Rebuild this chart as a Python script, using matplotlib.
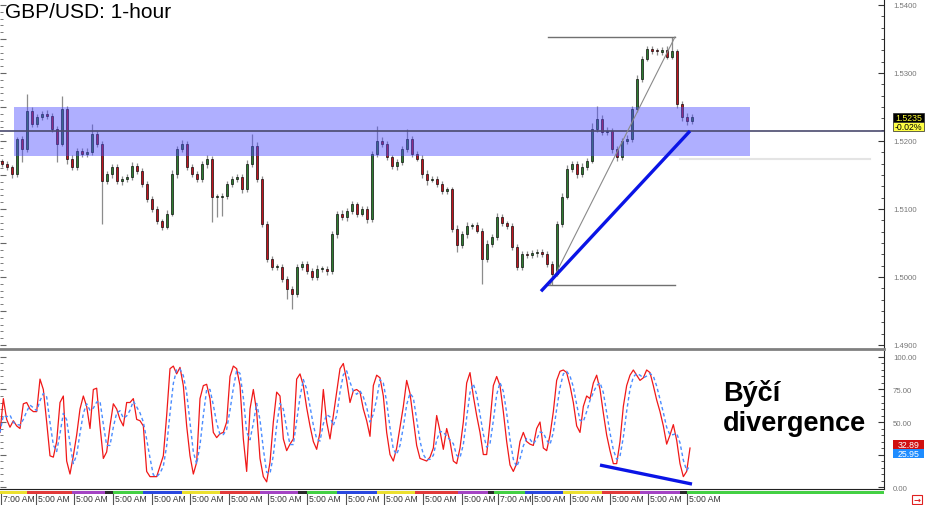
import numpy as np
import pandas as pd
import matplotlib
matplotlib.use("Agg")
import matplotlib.pyplot as plt
from matplotlib.patches import Rectangle
from matplotlib.transforms import blended_transform_factory as btf
from matplotlib.ticker import MultipleLocator, FixedLocator, NullFormatter, FormatStrFormatter, FixedFormatter

plt.rcParams['font.family'] = ['Liberation Sans', 'DejaVu Sans']

# ---------------- data ----------------
first_open = 1.5170
closes = [
    1.5166, 1.5162, 1.5151, 1.5203, 1.5188, 1.5244, 1.5225, 1.5235, 1.5240, 1.5237,
    1.5218, 1.5196, 1.5247, 1.5174, 1.5162, 1.5185, 1.5181, 1.5184, 1.5210, 1.5196,
    1.5141, 1.5151, 1.5162, 1.5141, 1.5144, 1.5147, 1.5163, 1.5156, 1.5137, 1.5115,
    1.5100, 1.5082, 1.5074, 1.5093, 1.5151, 1.5188, 1.5196, 1.5162, 1.5151, 1.5144,
    1.5166, 1.5174, 1.5118, 1.5118, 1.5119, 1.5137, 1.5144, 1.5147, 1.5129, 1.5166,
    1.5193, 1.5144, 1.5078, 1.5026, 1.5015, 1.5015, 1.4997, 1.4982, 1.4975, 1.5015,
    1.5019, 1.5009, 1.5000, 1.5012, 1.5012, 1.5009, 1.5063, 1.5093, 1.5088, 1.5097,
    1.5107, 1.5093, 1.5100, 1.5085, 1.5181, 1.5200, 1.5196, 1.5176, 1.5163, 1.5169,
    1.5188, 1.5203, 1.5181, 1.5174, 1.5151, 1.5143, 1.5144, 1.5137, 1.5126, 1.5129,
    1.5071, 1.5047, 1.5063, 1.5075, 1.5076, 1.5068, 1.5026, 1.5049, 1.5059, 1.5088,
    1.5079, 1.5075, 1.5044, 1.5015, 1.5034, 1.5032, 1.5035, 1.5037, 1.5034, 1.5019,
    1.5005, 1.5078, 1.5118, 1.5159, 1.5166, 1.5151, 1.5162, 1.5171, 1.5218, 1.5232,
    1.5213, 1.5215, 1.5188, 1.5176, 1.5200, 1.5203, 1.5247, 1.5291, 1.5321, 1.5335,
    1.5332, 1.5331, 1.5334, 1.5324, 1.5332, 1.5254, 1.5235, 1.5229, 1.5235,
]
# wick lengths in pips above / below the candle body
wick_up = [
    4, 4, 3, 3, 4, 25, 6, 5, 4, 5,
    4, 4, 19, 4, 5, 4, 4, 5, 15, 5,
    4, 5, 4, 4, 5, 4, 6, 4, 4, 4,
    4, 5, 4, 5, 6, 4, 5, 4, 4, 5,
    4, 6, 4, 4, 5, 4, 4, 5, 4, 6,
    17, 5, 4, 4, 5, 4, 4, 4, 5, 4,
    5, 4, 4, 5, 4, 4, 5, 4, 5, 4,
    5, 4, 4, 4, 5, 22, 6, 4, 4, 5,
    5, 15, 4, 4, 5, 6, 4, 5, 4, 4,
    4, 5, 4, 6, 4, 5, 4, 5, 4, 6,
    5, 4, 4, 5, 4, 4, 5, 4, 4, 4,
    4, 5, 6, 6, 5, 4, 5, 4, 8, 19,
    6, 5, 4, 5, 4, 6, 5, 6, 4, 5,
    4, 5, 4, 5, 21, 4, 5, 6, 4,
]
wick_dn = [
    4, 5, 5, 4, 19, 4, 5, 4, 4, 4,
    5, 27, 4, 8, 5, 4, 4, 5, 4, 5,
    63, 4, 5, 4, 5, 4, 4, 5, 4, 4,
    5, 4, 5, 4, 4, 5, 4, 5, 4, 4,
    4, 5, 37, 30, 28, 4, 5, 4, 6, 4,
    4, 5, 4, 4, 5, 4, 4, 15, 22, 4,
    5, 4, 5, 4, 4, 6, 4, 5, 4, 5,
    4, 5, 4, 6, 4, 4, 5, 4, 4, 5,
    4, 4, 5, 4, 5, 8, 4, 5, 4, 4,
    5, 10, 4, 5, 4, 4, 36, 4, 5, 4,
    4, 5, 4, 4, 5, 4, 4, 5, 4, 5,
    17, 4, 5, 4, 4, 5, 4, 4, 4, 5,
    4, 4, 5, 6, 4, 4, 5, 4, 4, 4,
    4, 5, 4, 4, 4, 5, 6, 5, 4,
]

# Stochastic %K (sampled every 2/3 bar)
stoch_k = [
    42, 68, 52, 46, 51, 47, 45, 64, 65, 60, 58, 58, 83, 75, 50, 24, 23, 35, 65, 70,
    20, 10, 24, 40, 60, 70, 62, 45, 75, 76, 47, 22, 27, 47, 64, 60, 52, 47, 65, 65,
    68, 52, 51, 47, 12, 8, 8, 8, 16, 24, 55, 91, 93, 87, 92, 78, 47, 24, 10, 19,
    68, 78, 79, 68, 42, 38, 41, 42, 50, 85, 93, 91, 78, 37, 12, 60, 75, 58, 22, 8,
    4, 19, 50, 73, 70, 37, 28, 33, 37, 83,
    87, 78, 61, 47, 35, 29, 42, 75, 50, 37, 55, 73, 91, 95, 82, 65, 74, 75, 73, 60,
    51, 39, 78, 86, 84, 70, 42, 25, 20, 30, 46, 62, 82, 72, 52, 32, 22, 21, 20, 23,
    30, 55, 43, 29, 45, 35, 20, 18, 30, 50, 80, 88, 70, 55, 42, 25, 25, 50, 78, 85,
    78, 58, 35, 17, 12, 18, 35, 42, 35, 33, 32, 45, 50, 30, 28, 40, 58, 82, 89, 90,
    88, 78, 65, 47, 42, 62, 70, 68, 80, 86, 75, 57, 40, 28, 18, 18, 35, 62, 78, 86,
    90, 86, 82, 84, 90, 88, 78, 67, 58, 47, 33, 40, 48, 36, 18, 8, 12, 30,
]

last_price_tag = "1.5235"
change_tag = "-0.02%"
k_tag, d_tag = 32.89, 25.95

# annotations (bar index / price)
band_x = (2.4, 149.6)
band_price = (1.5178, 1.5250)
level_line = 1.52147
fib_x = (109.2, 134.6)
fib_hi, fib_lo = 1.5353, 1.4988
trend_x = (107.8, 137.6)
trend_y = (1.4979, 1.52147)
faint_x = (135.6, 173.6)
faint_y = 1.5174
div_x = (119.6, 138.0)
div_y = (16.9, 2.3)

day_edges = [-0.4, 5.0, 14.0, 20.6, 22.2, 28.2, 36.0, 43.6, 51.6, 59.2, 61.0, 67.0,
             75.0, 82.6, 91.2, 97.2, 98.4, 104.6, 112.2, 120.0, 127.6, 135.6, 137.0, 176.4]
day_colors = ['#ece030', '#e23a3a', '#a444c4', '#2a2a2a', '#44d044', '#2a48e0'] * 3 + \
             ['#ece030', '#e23a3a', '#a444c4', '#2a2a2a', '#44d044']
time_x = [-0.2, 6.8, 14.4, 22.2, 30.0, 37.6, 45.4, 53.2, 61.0, 68.8, 76.4, 84.2,
          92.0, 99.2, 106.0, 113.6, 121.6, 129.2, 137.0]
time_labels = ['7:00 AM'] + ['5:00 AM'] * 12 + ['7:00 AM'] + ['5:00 AM'] * 5

stoch_ticks = [0, 25, 50, 75, 100]
stoch_tick_labels = ['0.00', '', '50.00', '75.00', '100.00']   # 25.00 hidden behind the value tags

# ---------------- figure ----------------
W, H = 925, 506
fig = plt.figure(figsize=(W / 100, H / 100), dpi=100)


def px_axes(x0, y0, x1, y1):
    return fig.add_axes([x0 / W, 1 - y1 / H, (x1 - x0) / W, (y1 - y0) / H])


ax = px_axes(0, 0, 884, 350)
ax2 = px_axes(0, 352, 884, 490)
XL = (-0.4, 176.4)

c = np.array(closes)
o = np.concatenate([[first_open], c[:-1]])
hi = np.maximum(o, c) + np.array(wick_up) * 1e-4
lo = np.minimum(o, c) - np.array(wick_dn) * 1e-4
idx = np.arange(len(c))
up = c >= o

ax.vlines(idx, lo, hi, color='#8c8c8c', lw=0.9, zorder=2)
body = np.where(np.abs(c - o) < 0.00012, 0.00012, c - o)
ax.bar(idx, body, bottom=o, width=0.52,
       color=np.where(up, '#2f7d32', '#c0141e'), edgecolor='black', lw=0.45, zorder=2.5)

ax.add_patch(Rectangle((band_x[0], band_price[0]), band_x[1] - band_x[0],
                       band_price[1] - band_price[0], facecolor=(0.31, 0.31, 1.0),
                       alpha=0.45, lw=0, zorder=3))
ax.axhline(level_line, color='#4a4a6e', lw=1.2, zorder=4)
ax.plot(fib_x, [fib_hi, fib_hi], color='#707070', lw=1.0, zorder=4)
ax.plot(fib_x, [fib_lo, fib_lo], color='#707070', lw=1.0, zorder=4)
ax.plot([fib_x[0] + 0.4, fib_x[1]], [fib_lo, fib_hi], color='#8a8a8a', lw=0.8, zorder=4)
ax.plot(faint_x, [faint_y, faint_y], color='#e4e4e4', lw=1.5, zorder=1)
ax.plot(trend_x, trend_y, color='#0a14e6', lw=2.4, zorder=5, solid_capstyle='butt')

ax.set_xlim(*XL)
ax.set_ylim(1.48941, 1.54088)
ax.yaxis.tick_right()
ax.yaxis.set_major_locator(MultipleLocator(0.01))
ax.yaxis.set_minor_locator(MultipleLocator(0.01 / 6))
ax.yaxis.set_major_formatter(FormatStrFormatter('%.4f'))
ax.tick_params(axis='y', which='both', direction='in', labelsize=5.6,
               labelcolor='#777777', color='#333333', pad=6.5)
ax.tick_params(axis='y', which='major', length=4, width=0.8)
ax.tick_params(axis='y', which='minor', length=2, width=0.6)
ax.set_xticks([])
for s in ['top', 'left']:
    ax.spines[s].set_visible(False)
ax.spines['right'].set_color('#222222')
ax.spines['bottom'].set_color('#808080')
ax.spines['bottom'].set_linewidth(2)

sec = ax.secondary_yaxis('left')
sec.yaxis.set_major_locator(MultipleLocator(0.005))
sec.yaxis.set_minor_locator(MultipleLocator(0.001))
sec.yaxis.set_major_formatter(NullFormatter())
sec.tick_params(which='both', direction='in', color='#666666')
sec.tick_params(which='major', length=4)
sec.tick_params(which='minor', length=2)
sec.spines['left'].set_visible(False)

fig.text(5 / W, 1 - 3 / H, "GBP/USD: 1-hour", fontsize=15, va='top', ha='left')

# ---- price tags ----
tr = btf(ax.transAxes, ax.transData)
th = 9 / 6800
for cy, txt, fc, tc in [(float(last_price_tag), last_price_tag, 'black', '#ffff33'),
                        (float(last_price_tag) - th, change_tag, '#ffff44', 'black')]:
    ax.add_patch(Rectangle((893 / 884, cy - th / 2), 31 / 884, th, transform=tr,
                           facecolor=fc, edgecolor='#222222', lw=0.5, clip_on=False, zorder=6))
    ax.text(908.5 / 884, cy, txt, transform=tr, fontsize=6.3, color=tc,
            ha='center', va='center', clip_on=False, zorder=7)

# ---------------- stochastic ----------------
k = np.array(stoch_k, dtype=float)
d = pd.Series(k).rolling(3, min_periods=1).mean().to_numpy()
sx = (np.arange(len(k)) * 10 / 3 - 2) / 5
ax2.plot(sx, k, color='#f01818', lw=0.9, zorder=3)
ax2.plot(sx, d, color='#4a8cff', lw=1.0, dashes=(2.5, 2), zorder=4)
ax2.plot(div_x, div_y, color='#0a14e6', lw=2.4, zorder=5, solid_capstyle='butt')

ax2.text(144.2, 61.5, "Býčí\ndivergence", fontsize=19.5, fontweight='bold',
         ha='left', va='center')

ax2.set_xlim(*XL)
ax2.set_ylim(-1.5, 104.6)
ax2.yaxis.tick_right()
ax2.yaxis.set_major_locator(FixedLocator(stoch_ticks))
ax2.yaxis.set_major_formatter(FixedFormatter(stoch_tick_labels))
ax2.yaxis.set_minor_locator(MultipleLocator(5))
ax2.tick_params(axis='y', which='both', direction='in', labelsize=5.6,
                labelcolor='#777777', color='#333333', pad=6.5)
ax2.tick_params(axis='y', which='major', length=4, width=0.8)
ax2.tick_params(axis='y', which='minor', length=2, width=0.6)
ax2.set_xticks([])
for s in ['top', 'left']:
    ax2.spines[s].set_visible(False)
ax2.spines['right'].set_color('#222222')
ax2.spines['bottom'].set_color('#222222')
sec2 = ax2.secondary_yaxis('left')
sec2.yaxis.set_major_locator(MultipleLocator(25))
sec2.yaxis.set_minor_locator(MultipleLocator(5))
sec2.yaxis.set_major_formatter(NullFormatter())
sec2.tick_params(which='both', direction='in', color='#666666')
sec2.tick_params(which='major', length=4)
sec2.tick_params(which='minor', length=2)
sec2.spines['left'].set_visible(False)

tr2 = btf(ax2.transAxes, ax2.transData)
th2 = 9 / 1.3
for cy, fc in [(k_tag, '#d01010'), (d_tag, '#1e8cff')]:
    ax2.add_patch(Rectangle((893 / 884, cy - th2 / 2), 31 / 884, th2, transform=tr2,
                            facecolor=fc, edgecolor='none', clip_on=False, zorder=6))
    ax2.text(908.5 / 884, cy, f"{cy:.2f}", transform=tr2, fontsize=6.3, color='white',
             ha='center', va='center', clip_on=False, zorder=7)

# ---------------- time axis ----------------
tt = btf(ax2.transData, fig.transFigure)
for i, col in enumerate(day_colors):
    ax2.add_patch(Rectangle((day_edges[i], 1 - 494.5 / H), day_edges[i + 1] - day_edges[i],
                            3 / H, transform=tt, facecolor=col, lw=0, clip_on=False))
for x, lab in zip(time_x, time_labels):
    ax2.plot([x, x], [1 - 494.5 / H, 1 - 505.5 / H], transform=tt, color='#555555',
             lw=0.8, clip_on=False)
    ax2.text(x + 0.35, 1 - 500 / H, lab, transform=tt, fontsize=6.2, color='#333333',
             ha='left', va='center', clip_on=False)

fig.add_artist(Rectangle((912 / W, 1 - 505 / H), 10 / W, 9 / H, transform=fig.transFigure,
                         facecolor='white', edgecolor='#e02020', lw=0.8))
fig.text(917 / W, 1 - 500.5 / H, "→", color='#e02020', fontsize=6, fontweight='bold',
         ha='center', va='center', family=['DejaVu Sans'])

fig.savefig("out.png", dpi=100)
